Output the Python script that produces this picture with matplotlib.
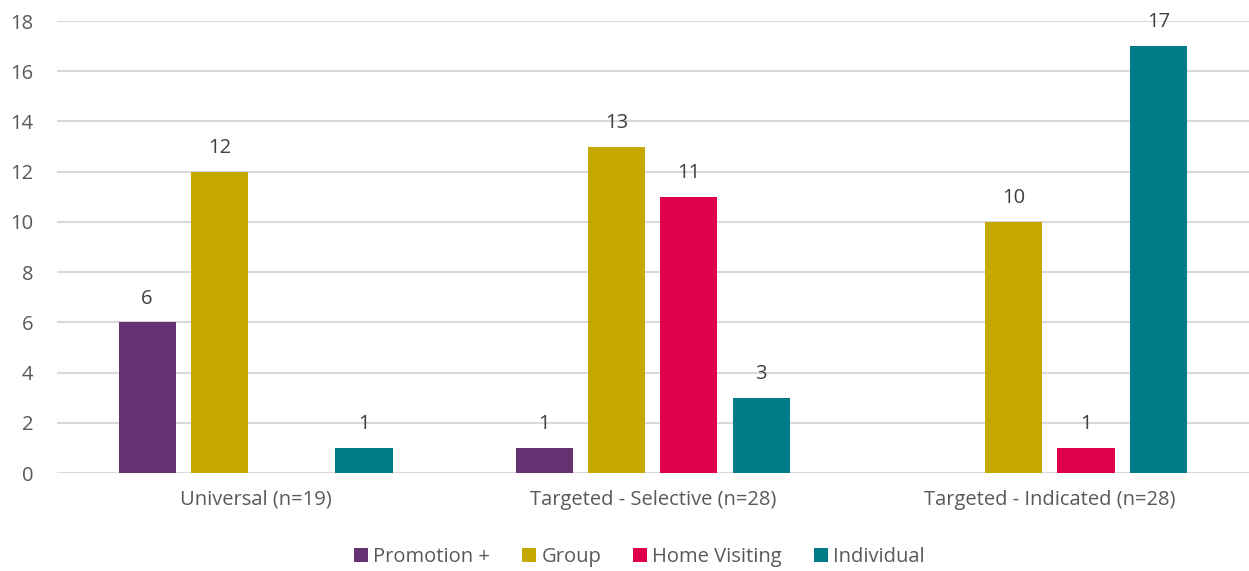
import numpy as np
import matplotlib.pyplot as plt

# intervention counts by prevention level
categories = ["Universal (n=19)", "Targeted - Selective (n=28)", "Targeted - Indicated (n=28)"]
series = ["Promotion +", "Group", "Home Visiting", "Individual"]
promotion = [6, 1, np.nan]
group = [12, 13, 10]
home_visiting = [np.nan, 11, 1]
individual = [1, 3, 17]

colors = ["#673272", "#C5A900", "#E0004D", "#007B87"]
text_color = "#595959"

plt.rcParams["font.family"] = ["Open Sans", "DejaVu Sans"]

fig = plt.figure(figsize=(12.49, 5.71), dpi=100)
ax = fig.add_axes([0.0456, 0.1716, 0.954, 0.7916])

x = np.arange(len(categories))
bar_w = 0.144
step = 0.182
values = [promotion, group, home_visiting, individual]

for i, (name, vals, col) in enumerate(zip(series, values, colors)):
    pos = x + (i - 1.5) * step
    bars = ax.bar(pos, vals, width=bar_w, color=col, label=name, zorder=3)
    for b, v in zip(bars, vals):
        if not np.isnan(v):
            ax.text(b.get_x() + b.get_width() / 2, v + 0.55, f"{v:g}",
                    ha="center", va="bottom", fontsize=14.5, color="#404040")

ax.set_xlim(-0.5, 2.5)
ax.set_ylim(0, 18)
ax.set_yticks(range(0, 19, 2))
ax.set_xticks(x)
ax.set_xticklabels(categories, fontsize=15)
ax.tick_params(axis="both", length=0, labelsize=14.5, labelcolor=text_color)
ax.tick_params(axis="x", pad=12)
ax.tick_params(axis="y", pad=17)
ax.grid(axis="y", color="#D9D9D9", linewidth=1.5, zorder=0)
for s in ax.spines.values():
    s.set_visible(False)

fig.legend(loc="center", bbox_to_anchor=(0.512, 0.024), ncol=4, frameon=False,
           fontsize=14.5, labelcolor=text_color, handlelength=0.7, handleheight=0.7,
           handletextpad=0.25, columnspacing=1.6)

fig.savefig("out.png", dpi=100)
